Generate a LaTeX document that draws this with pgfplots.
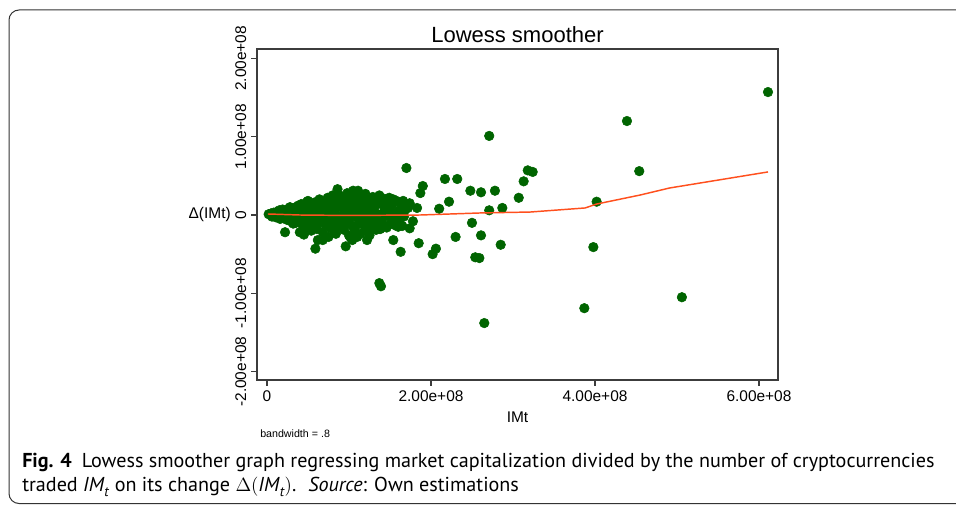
\documentclass[border=0pt]{standalone}
\usepackage{pgfplots}
\pgfplotsset{compat=1.18}
\usepackage{pgfplotstable}
\usepackage{fontspec}
\setmainfont{Liberation Sans}
\newfontfamily\capfont{PT Sans}
\definecolor{dkgreen}{RGB}{0,100,0}
\definecolor{lowess}{RGB}{255,80,30}
\definecolor{axgray}{RGB}{60,60,60}

% values in millions (1.00e+08 = 100)
\pgfplotstableread{
x y
611 157
439 120
454 56
402 17
398 -41
387 -119
506 -105
271 101
318 57
324 55
313 43
307 22
278 31
271 6
287 9
261 29
261 -26
285 -38
265 -138
259 -55
254 -54
170 60
217 46
232 46
190 37
187 28
248 31
222 17
210 8
166 18
174 15
172 9
183 9
165 3
178 -8
165 -14
174 -17
250 -10
230 -28
185 -36
206 -43
202 -50
163 -47
137 -87
139 -91
122 -32
154 -32
96 -40
59 -43
62 -32
68 -32
104 -32
22 -22
111 31
98 28
89 23
63 18
49 17
32 -11
82 -19
89 -10
133 -19
134 -11
160 -15
120 -18
154 20
144 19
129 20
111 18
102 -29
2 1
5 2
8 3
10 1
12 4
14 0
15 6
16 -5
18 2
19 7
20 -4
22 5
24 -6
25 3
26 8
28 10
29 -8
30 4
32 -5
33 9
35 -10
36 6
38 12
40 -7
41 5
42 14
43 -12
45 -4
46 10
47 -15
48 7
50 18
51 -8
53 12
54 -20
56 9
57 -5
58 16
59 -12
60 6
61 -18
62 11
64 20
65 -9
67 14
68 -22
69 7
70 -3
71 17
72 -14
74 22
75 -6
77 12
78 -17
79 6
80 25
81 -10
82 15
84 -24
85 9
86 19
87 -4
88 13
89 -15
91 24
92 -8
93 10
94 -19
95 17
97 -11
98 21
99 7
100 -26
101 12
103 19
104 -14
105 4
106 26
107 -20
108 10
110 16
111 -12
112 22
114 -24
115 13
117 20
118 -9
119 7
120 27
121 -16
122 11
124 18
125 -21
127 15
128 -10
129 23
130 6
131 -14
132 12
134 19
135 -8
137 25
138 -18
139 14
141 -12
142 21
143 5
145 16
146 -16
147 10
149 22
150 7
152 -9
153 14
156 -13
158 18
160 5
162 -5
164 11
168 6
45 -25
75 -28
110 -28
125 -26
86 33
105 31
40 -22
6 -2
11 -3
17 3
23 -2
27 1
31 -1
34 -3
37 2
39 -1
42 0
48 -2
52 1
58 -1
63 3
66 -2
72 2
76 -1
83 1
88 -2
94 2
99 -1
102 1
108 -2
113 2
116 -1
123 1
126 -2
133 2
136 -1
140 1
144 -2
148 2
151 0
155 -2
159 1
163 0
167 -2
55 -10
85 -12
115 -8
140 -9
70 10
100 -7
130 9
}\scatterdata

\pgfplotstableread{
x y
1 1.3
40 0
101 -0.6
187 0
260 2.6
321 3.8
388 9
402 14
455 25.5
491 34.5
611 55
}\lowessdata

\begin{document}
\begin{tikzpicture}
\useasboundingbox (0,0) rectangle (717pt,-378.75pt);
\begin{scope}[x=0.75pt,y=-0.75pt]
  \clip (0,0) rectangle (956,505);
  \draw[black!80, line width=0.75pt, rounded corners=7.5pt] (9,10) rectangle (1000,503.5);
  \node[anchor=base, font=\fontsize{16.5}{18}\selectfont] at (517.5,43) {Lowess smoother};
  \node[anchor=east, inner sep=0pt, font=\fontsize{11.6}{13}\selectfont] at (231,215) {Δ(IMt)};
  \node[anchor=base, inner sep=0pt, font=\fontsize{11.6}{13}\selectfont] at (517.5,422) {IMt};
  \node[anchor=base west, inner sep=0pt, font=\fontsize{8}{9}\selectfont] at (260,438) {bandwidth = .8};
  \node[anchor=base west, inner sep=0pt, font=\capfont\fontsize{15.1}{17}\selectfont] at (22,467)
    {\textbf{Fig. 4}\hspace{0.5em}Lowess smoother graph regressing market capitalization divided by the number of cryptocurrencies};
  \node[anchor=base west, inner sep=0pt, font=\capfont\fontsize{15.1}{17}\selectfont] at (22,491)
    {traded \textit{IM}\raisebox{-0.25em}{\fontsize{10.5}{11}\selectfont\textit{t}} on its change $\Delta($\textit{IM}\raisebox{-0.25em}{\fontsize{10.5}{11}\selectfont\textit{t}}$)$.\hspace{0.6em}\textit{Source}: Own estimations};
\end{scope}
\begin{axis}[
  at={(192.75pt,-285pt)}, anchor=south west,
  width=390.75pt, height=248.25pt, scale only axis,
  xmin=-12.2, xmax=623.2, ymin=-210.7, ymax=212,
  xtick={0,200,400,600},
  xticklabels={0,2.00e+08,4.00e+08,6.00e+08},
  ytick={-200,-100,0,100,200},
  yticklabels={-2.00e+08,-1.00e+08,0,1.00e+08,2.00e+08},
  axis line style={axgray, line width=0.8pt},
  tick style={axgray, line width=0.8pt},
  tick align=outside, xtick pos=bottom, ytick pos=left,
  major tick length=4.5pt,
  ticklabel style={font=\fontsize{11.6}{13}\selectfont, text=black},
  yticklabel style={rotate=90, anchor=south},
  clip marker paths=true,
]
\addplot[only marks, mark=*, mark size=3.6pt, mark options={fill=dkgreen, draw=dkgreen}] table {\scatterdata};
\addplot[lowess, line width=1.1pt, no markers] table {\lowessdata};
\end{axis}
\end{tikzpicture}
\end{document}
